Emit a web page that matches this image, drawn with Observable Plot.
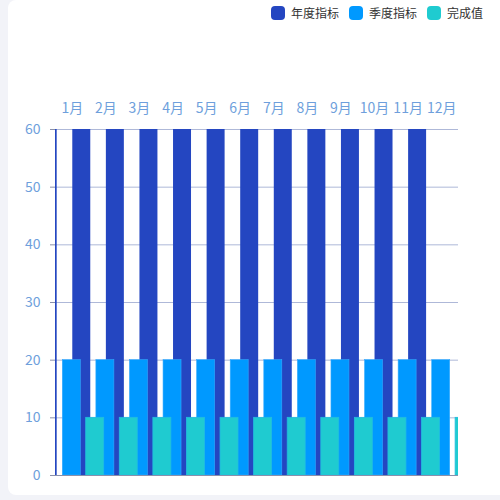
<!DOCTYPE html>
<html>
<head>
<meta charset="utf-8">
<script src="https://cdn.jsdelivr.net/npm/d3@7"></script>
<script src="https://cdn.jsdelivr.net/npm/@observablehq/plot@0.6"></script>
<style>
  html, body { margin: 0; padding: 0; background: #f2f3f8; }
  #wrap { position: relative; width: 500px; height: 500px; overflow: hidden; }
  #card { position: absolute; left: 8px; top: 0; width: 500px; height: 495px; background: #fff; border-radius: 8px; }
  #legend { position: absolute; top: 4px; right: 17px; display: flex; align-items: center;
    font-family: "Noto Sans CJK SC", "Noto Sans", sans-serif; font-size: 12px; color: #333; }
  .item { display: flex; align-items: center; margin-left: 10px; }
  .sw { width: 14px; height: 14px; border-radius: 4px; margin-right: 6px; }
  #chart { position: absolute; left: 0; top: 0; }
</style>
</head>
<body>
<div id="wrap">
  <div id="card"></div>
  <div id="chart"></div>
  <div id="legend"></div>
</div>
<script>
const months = ["1月","2月","3月","4月","5月","6月","7月","8月","9月","10月","11月","12月"];
const annualTarget = [60,60,60,60,60,60,60,60,60,60,60,60];
const quarterTarget = [20,20,20,20,20,20,20,20,20,20,20,20];
const completed = [10,10,10,10,10,10,10,10,10,10,10,10];
const yTicks = [0,10,20,30,40,50,60];
const seriesNames = ["年度指标","季度指标","完成值"];
const colors = ["#2446c1","#0099ff","#1fcbd0"];

const rows = (vals) => months.map((m, i) => ({month: m, value: vals[i]}));

const legend = document.getElementById("legend");
seriesNames.forEach((n, i) => {
  const it = document.createElement("div");
  it.className = "item";
  const sw = document.createElement("div");
  sw.className = "sw";
  sw.style.background = colors[i];
  const t = document.createElement("span");
  t.textContent = n;
  it.appendChild(sw); it.appendChild(t);
  legend.appendChild(it);
});

const labelColor = "#6e9fdc";
const barOpts = {x: "month", y: "value", insetLeft: 7.8, insetRight: 7.8, clip: true};
const chart = Plot.plot({
  width: 500,
  height: 500,
  marginLeft: 55,
  marginRight: 42,
  marginTop: 129,
  marginBottom: 25,
  style: {background: "transparent", fontFamily: "'Noto Sans CJK SC', 'Noto Sans', sans-serif", fontSize: "14px"},
  x: {domain: months, padding: 0, round: false, axis: null, label: null},
  y: {domain: [0, 60], axis: null, label: null},
  marks: [
    Plot.gridY(yTicks, {stroke: "#aeb8d8", strokeOpacity: 1}),
    Plot.barY(rows(annualTarget), {...barOpts, fill: colors[0], dx: -24.1}),
    Plot.barY(rows(quarterTarget), {...barOpts, fill: colors[1], stroke: "#33aaff", strokeWidth: 0.6, dx: -0.5}),
    Plot.barY(rows(completed), {...barOpts, fill: colors[2], stroke: "#22bde0", strokeWidth: 0.8, dx: 22.9}),
    Plot.ruleY([0], {stroke: "#8a90aa"}),
    Plot.axisX({anchor: "top", tickSize: 0, tickPadding: 17, color: labelColor, fontSize: 14, label: null}),
    Plot.axisY({ticks: yTicks, anchor: "left", tickSize: 5, tickFormat: () => "", stroke: "#8a90aa", label: null}),
    Plot.axisY({ticks: yTicks, anchor: "left", tickSize: 0, tickPadding: 15, color: labelColor, fontSize: 14, label: null})
  ]
});
document.getElementById("chart").appendChild(chart);
</script>
</body>
</html>
